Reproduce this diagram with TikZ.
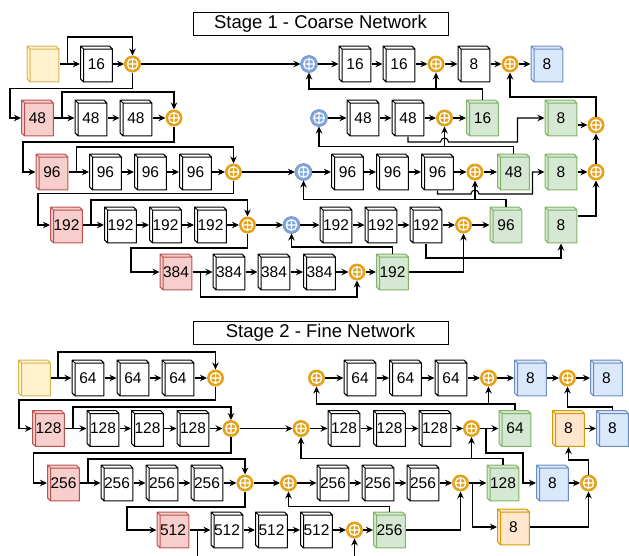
\documentclass[tikz,border=0pt]{standalone}
\usepackage{fontspec}
\setmainfont{Liberation Sans}
\usetikzlibrary{arrows.meta,calc}
\definecolor{yelf}{HTML}{FFF2CC}\definecolor{yeld}{HTML}{D6B656}
\definecolor{redf}{HTML}{F8CECC}\definecolor{redd}{HTML}{B85450}
\definecolor{grnf}{HTML}{D5E8D4}\definecolor{grnd}{HTML}{82B366}
\definecolor{bluf}{HTML}{DAE8FC}\definecolor{blud}{HTML}{6C8EBF}
\definecolor{orgf}{HTML}{FFE6CC}\definecolor{orgd}{HTML}{D79B00}
\definecolor{sumor}{HTML}{E3A21A}\definecolor{sumbl}{HTML}{7EA6E0}
\newcommand\cubefaces[2]{%
  \filldraw[fill=#1,draw=#2,line width=1pt,line join=round]
    let \p1=(path picture bounding box.south west), \p2=(path picture bounding box.north east) in
    (\x1+3.6pt,\y1+0.6pt) rectangle (\x2-0.6pt,\y2-3.6pt)
    (\x1+3.6pt,\y2-3.6pt) -- (\x1+0.6pt,\y2-0.6pt) -- (\x2-3.6pt,\y2-0.6pt) -- (\x2-0.6pt,\y2-3.6pt) -- cycle
    (\x1+3.6pt,\y2-3.6pt) -- (\x1+0.6pt,\y2-0.6pt) -- (\x1+0.6pt,\y1+3.6pt) -- (\x1+3.6pt,\y1+0.6pt) -- cycle;}
\newcommand\sumcross{\draw[white,line width=1.2pt] (path picture bounding box.center) circle (5.3pt)
  ++(-5.3pt,0pt) -- ++(10.6pt,0pt) ++(-5.3pt,-5.3pt) -- ++(0pt,10.6pt);}
\begin{document}
\begin{tikzpicture}[x=1pt,y=-1pt,line width=1.1pt,>={Stealth[length=7pt,width=6.5pt]},
cube/.style 2 args={rectangle,minimum width=33pt,minimum height=37pt,inner sep=0pt,outer sep=0pt,
  font=\fontsize{15.5}{18}\selectfont,path picture={\cubefaces{#1}{#2}}},
cb/.style={cube={white}{black}},
cin/.style={cube={yelf}{yeld}},
cdown/.style={cube={redf}{redd}},
cup/.style={cube={grnf}{grnd}},
cout/.style={cube={bluf}{blud}},
cref/.style={cube={orgf}{orgd}},
sumo/.style={circle,fill=sumor,minimum size=17pt,inner sep=0pt,outer sep=0pt,path picture={\sumcross}},
sumb/.style={circle,fill=sumbl,draw=blud,line width=0.6pt,minimum size=17pt,inner sep=0pt,outer sep=0pt,path picture={\sumcross}},
title/.style={draw,line width=1pt,minimum width=255pt,minimum height=23pt,inner sep=0pt,font=\fontsize{18.5}{22}\selectfont}]
\useasboundingbox (0,0) rectangle (629,555);

\node[title] (st1) at (320.5,23.5) {Stage 1 - Coarse Network};
\node[title] (st2) at (320.5,332.5) {Stage 2 - Fine Network};

% stage 1
\node[cin] (in1) at (43,64) {};
\node[cb] (b11) at (96.5,64) {16};
\node[sumo] (s11) at (132.5,64) {};
\node[sumb] (u11) at (309,64) {};
\node[cb] (d11) at (355,64) {16};
\node[cb] (d12) at (399,64) {16};
\node[sumo] (s12) at (436,64) {};
\node[cb] (d13) at (474,64) {8};
\node[sumo] (s13) at (510,64) {};
\node[cout] (o11) at (547,64) {8};

\node[cdown] (r2) at (37.5,118) {48};
\node[cb] (b21) at (91,118) {48};
\node[cb] (b22) at (136,118) {48};
\node[sumo] (s21) at (174,118) {};
\node[sumb] (u21) at (319,118) {};
\node[cb] (d21) at (363,118) {48};
\node[cb] (d22) at (408,118) {48};
\node[sumo] (s22) at (444.5,118) {};
\node[cup] (g21) at (482.5,118) {16};
\node[cup] (g22) at (561,118) {8};
\node[sumo] (s23) at (596,125) {};

\node[cdown] (r3) at (52,172) {96};
\node[cb] (b31) at (105.5,172) {96};
\node[cb] (b32) at (150.5,172) {96};
\node[cb] (b33) at (195.5,172) {96};
\node[sumo] (s31) at (233.5,172) {};
\node[sumb] (u31) at (303.5,172) {};
\node[cb] (d31) at (347.5,172) {96};
\node[cb] (d32) at (392.5,172) {96};
\node[cb] (d33) at (437.5,172) {96};
\node[sumo] (s32) at (475,172) {};
\node[cup] (g31) at (513.5,172) {48};
\node[cup] (g32) at (561,172) {8};
\node[sumo] (s33) at (596,172) {};

\node[cdown] (r4) at (66.5,225) {192};
\node[cb] (b41) at (120.5,225) {192};
\node[cb] (b42) at (165.5,225) {192};
\node[cb] (b43) at (210.5,225) {192};
\node[sumo] (s41) at (247.5,225) {};
\node[sumb] (u41) at (291.5,225) {};
\node[cb] (d41) at (336,225) {192};
\node[cb] (d42) at (381,225) {192};
\node[cb] (d43) at (426,225) {192};
\node[sumo] (s42) at (463.5,225) {};
\node[cup] (g41) at (506,225) {96};
\node[cup] (g42) at (561,225) {8};

\node[cdown] (r5) at (176,272) {384};
\node[cb] (b51) at (229,272) {384};
\node[cb] (b52) at (274,272) {384};
\node[cb] (b53) at (319.5,272) {384};
\node[sumo] (s51) at (357,272) {};
\node[cup] (g51) at (392.5,272) {192};

\draw[->] (in1) -- (b11);
\draw[->] (in1.east) -- ++(8,0) -- ++(0,-27) -| (s11.north);
\draw[->] (b11) -- (s11);
\draw[->] (s11) -- (u11);
\draw[->] (s11.south) -- ++(0,16) -| ([xshift=-11pt]r2.west) -- (r2.west);
\draw[->] (u11) -- (d11);
\draw[->] (d11) -- (d12);
\draw[->] (d12) -- (s12);
\draw[->] (s12) -- (d13);
\draw[->] (d13) -- (s13);
\draw[->] (s13) -- (o11);

\draw[->] (r2) -- (b21);
\draw[->] (r2.east) -- ++(8,0) -- ++(0,-26) -| (s21.north);
\draw[->] (b21) -- (b22);
\draw[->] (b22) -- (s21);
\draw[->] (s21.south) -- ++(0,15.5) -| ([xshift=-12.5pt]r3.west) -- (r3.west);
\draw[->] (u21) -- (d21);
\draw[->] (d21) -- (d22);
\draw[->] (d22) -- (s22);
\draw[->] (s22) -- (g21);
\draw[->] (d22.south) -- ++(0,5.5) -- ++(32.5,0) arc[start angle=180,end angle=0,radius=4pt] -| ([xshift=-27pt]g22.west) -- (g22.west);
\draw[->] ([yshift=-7pt]g22.east) -- (s23);
\draw[->] (g21.north) -- ++(0,-10.5) -| (u11.south);
\draw[->] (g21.north) -- ++(0,-10.5) -| (s12.south);
\draw[->] (s23.north) -- ++(0,-19.5) -| (s13.south);

\draw[->] (r3) -- (b31);
\draw[->] (r3.east) -- ++(8,0) -- ++(0,-25) -| (s31.north);
\draw[->] (b31) -- (b32);
\draw[->] (b32) -- (b33);
\draw[->] (b33) -- (s31);
\draw[->] (s31) -- (u31);
\draw[->] (s31.south) -- ++(0,13) -| ([xshift=-12pt]r4.west) -- (r4.west);
\draw[->] (u31) -- (d31);
\draw[->] (d31) -- (d32);
\draw[->] (d32) -- (d33);
\draw[->] (d33) -- (s32);
\draw[->] (s32) -- (g31);
\draw[->] (d33.south) -- ++(0,3.5) -- ++(33.5,0) arc[start angle=180,end angle=0,radius=4pt] -| ([xshift=-12pt]g32.west) -- (g32.west);
\draw[->] (g32) -- (s33);
\draw[->] (s33) -- (s23);
\draw[->] (g31.north) -- ++(0,-7) -| (u21.south);
\draw[->] (g31.north) -- ++(0,-7) -| (s22.south);

\draw[->] (r4) -- (b41);
\draw[->] (r4.east) -- ++(8,0) -- ++(0,-25) -| (s41.north);
\draw[->] (b41) -- (b42);
\draw[->] (b42) -- (b43);
\draw[->] (b43) -- (s41);
\draw[->,line width=1.8pt] (s41) -- (u41);
\draw[->] (s41.south) -- ++(0,14.5) -| ([xshift=-28.5pt]r5.west) -- (r5.west);
\draw[->] (u41) -- (d41);
\draw[->] (d41) -- (d42);
\draw[->] (d42) -- (d43);
\draw[->] (d43) -- (s42);
\draw[->] (s42) -- (g41);
\draw[->] (d43.south) -- ++(0,14.5) -| (g42.south);
\draw[->] ([yshift=9pt]g42.east) -| (s33.south);
\draw[->] (g41.north) -- ++(0,-7) -| (u31.south);
\draw[->] (g41.north) -- ++(0,-7) -| (s32.south);

\draw[->] (r5) -- (b51);
\draw[->] (r5.east) -- ++(8,0) -- ++(0,25) -| (s51.south);
\draw[->] (b51) -- (b52);
\draw[->] (b52) -- (b53);
\draw[->] (b53) -- (s51);
\draw[->] (s51) -- (g51);
\draw[->] (g51.north) -- ++(0,-6.5) -| (u41.south);
\draw[->] (g51.east) -| (s42.south);

% stage 2
\node[cin] (in2) at (34.5,378) {};
\node[cb] (e11) at (88,378) {64};
\node[cb] (e12) at (133,378) {64};
\node[cb] (e13) at (178,378) {64};
\node[sumo] (t11) at (215.5,378) {};
\node[sumo] (t12) at (316.5,378) {};
\node[cb] (f11) at (360,378) {64};
\node[cb] (f12) at (405.5,378) {64};
\node[cb] (f13) at (451,378) {64};
\node[sumo] (t13) at (488.5,378) {};
\node[cout] (o21) at (530.5,378) {8};
\node[sumo] (t14) at (567.5,378) {};
\node[cout] (o22) at (606.5,378) {8};

\node[cdown] (r6) at (48.5,428.5) {128};
\node[cb] (e21) at (103,428.5) {128};
\node[cb] (e22) at (147.5,428.5) {128};
\node[cb] (e23) at (193,428.5) {128};
\node[sumo] (t21) at (231,428.5) {};
\node[sumo] (t22) at (301,428.5) {};
\node[cb] (f21) at (344,428.5) {128};
\node[cb] (f22) at (389.5,428.5) {128};
\node[cb] (f23) at (435,428.5) {128};
\node[sumo] (t23) at (471.5,428.5) {};
\node[cup] (g61) at (515,428.5) {64};
\node[cref] (q21) at (568.5,428.5) {8};
\node[cout] (o23) at (612.5,428.5) {8};

\node[cdown] (r7) at (63.5,483) {256};
\node[cb] (e31) at (117,483) {256};
\node[cb] (e32) at (162,483) {256};
\node[cb] (e33) at (207,483) {256};
\node[sumo] (t31) at (245,483) {};
\node[sumo] (t32) at (288.5,483) {};
\node[cb] (f31) at (333,483) {256};
\node[cb] (f32) at (378,483) {256};
\node[cb] (f33) at (423,483) {256};
\node[sumo] (t33) at (460.5,483) {};
\node[cup] (g71) at (503,483) {128};
\node[cout] (o24) at (552.5,483) {8};
\node[sumo] (t34) at (588.5,483) {};

\node[cdown] (r8) at (173,530) {512};
\node[cb] (e41) at (227,530) {512};
\node[cb] (e42) at (271.5,530) {512};
\node[cb] (e43) at (316.5,530) {512};
\node[sumo] (t41) at (354.5,530) {};
\node[cup] (g81) at (389.5,530) {256};
\node[cref] (q41) at (513.5,527) {8};

\draw[->] (in2) -- (e11);
\draw[->] (in2.east) -- ++(7,0) -- ++(0,-26) -| (t11.north);
\draw[->] (e11) -- (e12);
\draw[->] (e12) -- (e13);
\draw[->] (e13) -- (t11);
\draw[->] (t11.south) -- ++(0,13.5) -| ([xshift=-13pt]r6.west) -- (r6.west);
\draw[->] (t12) -- (f11);
\draw[->] (f11) -- (f12);
\draw[->] (f12) -- (f13);
\draw[->] (f13) -- (t13);
\draw[->] (t13) -- (o21);
\draw[->] (o21) -- (t14);
\draw[->] (t14) -- (o22);

\draw[->] (r6) -- (e21);
\draw[->] (r6.east) -- ++(8,0) -- ++(0,-21.5) -| (t21.north);
\draw[->] (e21) -- (e22);
\draw[->] (e22) -- (e23);
\draw[->] (e23) -- (t21);
\draw[->] (t21) -- (t22);
\draw[->] (t21.south) -- ++(0,16) -| ([xshift=-13.5pt]r7.west) -- (r7.west);
\draw[->] (t22) -- (f21);
\draw[->] (f21) -- (f22);
\draw[->] (f22) -- (f23);
\draw[->] (f23) -- (t23);
\draw[->] (t23) -- (g61);
\draw[->] (t23.east) -- ++(6,0) -- ++(0,24.5) -| ([xshift=-13pt]o24.west) -- (o24.west);
\draw[->] (g61.north) -- ++(0,-6) -| (t12.south);
\draw[->] (g61.north) -- ++(0,-6) -| (t13.south);
\draw[->] (q21) -- (o23);
\draw[->] (o23.north) -- ++(0,-3) -| (t14.south);

\draw[->] (r7) -- (e31);
\draw[->] (r7.east) -- ++(8,0) -- ++(0,-24) -| (t31.north);
\draw[->] (e31) -- (e32);
\draw[->] (e32) -- (e33);
\draw[->] (e33) -- (t31);
\draw[->,line width=1.8pt] (t31) -- (t32);
\draw[->] (t31.south) -- ++(0,15.5) -| ([xshift=-29.5pt]r8.west) -- (r8.west);
\draw[->] (t32) -- (f31);
\draw[->] (f31) -- (f32);
\draw[->] (f32) -- (f33);
\draw[->] (f33) -- (t33);
\draw[->] (t33) -- (g71);
\draw[->] (t33.east) -- ++(3.5,0) |- (q41.west);
\draw[->] (g71.north) -- ++(0,-6) -| (t22.south);
\draw[->] (g71.north) -- ++(0,-6) -| (t23.south);
\draw[->] (o24) -- (t34);
\draw[->] (q41.east) -| (t34.south);
\draw[->] (t34.north) -- ++(0,-14.5) -| (q21.south);

\draw[->] (r8) -- (e41);
\draw[->] (r8.east) -- ++(8,0) -- ++(0,40) -| (t41.south);
\draw[->] (e41) -- (e42);
\draw[->] (e42) -- (e43);
\draw[->] (e43) -- (t41);
\draw[->] (t41) -- (g81);
\draw[->] (g81.north) -- ++(0,-5) -| (t32.south);
\draw[->] (g81.east) -| (t33.south);
\end{tikzpicture}
\end{document}
